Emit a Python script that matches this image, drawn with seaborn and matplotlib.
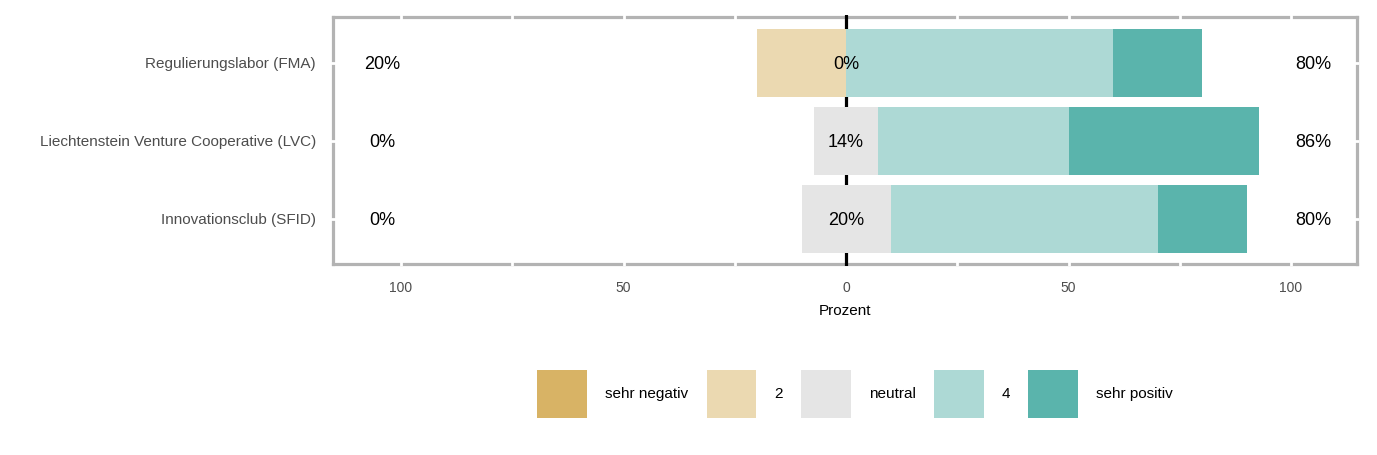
# Likert-Diagramm: Bewertung der Innovationsinstrumente
import pandas as pd
import numpy as np

import seaborn as sns
import matplotlib.pyplot as plt
from matplotlib.patches import Patch

# Daten (Prozent je Antwortstufe)

gruppen = [
    "Regulierungslabor (FMA)",
    "Liechtenstein Venture Cooperative (LVC)",
    "Innovationsclub (SFID)",
]
stufen = ["sehr negativ", "2", "neutral", "4", "sehr positiv"]

sehr_negativ = [0.0, 0.0, 0.0]
stufe_2 = [20.0, 0.0, 0.0]
neutral = [0.0, 14.29, 20.0]
stufe_4 = [60.0, 42.86, 60.0]
sehr_positiv = [20.0, 42.86, 20.0]

farben = ["#D8B365", "#EBD9B1", "#E5E5E5", "#ADD9D5", "#5AB4AC"]

likert_df = pd.DataFrame({
    "gruppe": gruppen,
    "sehr negativ": sehr_negativ,
    "2": stufe_2,
    "neutral": neutral,
    "4": stufe_4,
    "sehr positiv": sehr_positiv,
})

# Enden der Segmente (ueberlagerte Balken ab 0)

halb = likert_df["neutral"] / 2
segmente = [
    (halb + likert_df["4"] + likert_df["sehr positiv"], farben[4]),
    (halb + likert_df["4"], farben[3]),
    (-(halb + likert_df["2"] + likert_df["sehr negativ"]), farben[0]),
    (-(halb + likert_df["2"]), farben[1]),
    (halb, farben[2]),
    (-halb, farben[2]),
]

sns.set_style("white")
plt.rcParams["font.family"] = ["Liberation Sans", "DejaVu Sans"]

fig = plt.figure(figsize=(13.77, 4.55), dpi=100)
ax = fig.add_axes([331 / 1377, 1 - 266 / 455, 1028 / 1377, 251 / 455])

ax.axvline(0, color="black", lw=2.3, zorder=0.9)

for enden, farbe in segmente:
    sns.barplot(
        x=enden,
        y=likert_df["gruppe"],
        order=gruppen,
        orient="h",
        color=farbe,
        saturation=1,
        width=0.88,
        linewidth=0,
        ax=ax,
    )

# Prozentangaben

links = likert_df["sehr negativ"] + likert_df["2"]
rechts = likert_df["4"] + likert_df["sehr positiv"]
for i in range(len(gruppen)):
    ax.text(-104.15, i, f"{links[i]:.0f}%", ha="center", va="center_baseline",
            fontsize=13, color="black")
    ax.text(0, i, f"{neutral[i]:.0f}%", ha="center", va="center_baseline",
            fontsize=13, color="black")
    ax.text(104.95, i, f"{rechts[i]:.0f}%", ha="center", va="center_baseline",
            fontsize=13, color="black")

ax.set_xlim(-115.73, 115.28)
ax.set_ylim(2.603, -0.615)

ax.set_xticks([-100, -50, 0, 50, 100])
ax.set_xticklabels(["100", "50", "0", "50", "100"])
ax.set_xticks([-75, -25, 25, 75], minor=True)
ax.tick_params(axis="both", length=0, labelcolor="#4D4D4D")
ax.tick_params(axis="x", labelsize=10, pad=12.4)
ax.tick_params(axis="y", labelsize=11, pad=12.4)

ax.set_xlabel("Prozent", fontsize=11, labelpad=6.5, color="black")
ax.set_ylabel("")

# Rahmen liegt innerhalb der Achse, weisse Gitterlinien laufen darueber
ax.set_axisbelow(True)
ax.grid(True, which="both", color="white", lw=2)
ax.spines["left"].set_position(("data", -115.28))
ax.spines["right"].set_position(("data", 114.83))
ax.spines["top"].set_position(("data", -0.59))
ax.spines["bottom"].set_position(("data", 2.577))
for name in ["left", "right"]:
    ax.spines[name].set_bounds(-0.59, 2.577)
for name in ["top", "bottom"]:
    ax.spines[name].set_bounds(-115.28, 114.83)
for spine in ax.spines.values():
    spine.set_visible(True)
    spine.set_color("#B3B3B3")
    spine.set_linewidth(2.3)
    spine.set_capstyle("projecting")
    spine.set_zorder(0.4)

# Legende

handles = [Patch(facecolor=f, edgecolor="none") for f in farben]
ax.legend(
    handles,
    stufen,
    loc="center",
    bbox_to_anchor=(0.51, -0.51),
    ncol=5,
    frameon=False,
    fontsize=11,
    labelcolor="black",
    handlelength=3.27,
    handleheight=4.5,
    handletextpad=1.18,
    columnspacing=1.18,
)

plt.savefig("out.png", dpi=100)
